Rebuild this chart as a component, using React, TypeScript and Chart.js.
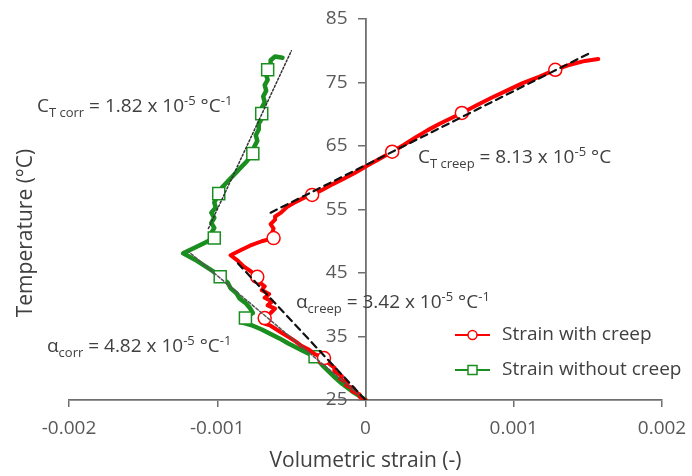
import React, { useEffect, useRef } from "react";
import { Chart, registerables } from "chart.js";

Chart.register(...registerables);

// ---------------- data ----------------
const creepStrain = [
  0.0, -0.00004, -0.00004, -0.00009, -0.00008, -0.00013, -0.00012, -0.00017, -0.00016, -0.00021,
  -0.00021, -0.00025, -0.00028, -0.00034, -0.00038, -0.00043, -0.00047, -0.00051, -0.00056, -0.0006,
  -0.00064, -0.0007, -0.00068, -0.00064, -0.00061, -0.00066, -0.00063, -0.00068, -0.00065, -0.0007,
  -0.00068, -0.00072, -0.00073, -0.00077, -0.00082, -0.00086, -0.00091, -0.00085, -0.00078, -0.0007,
  -0.00062, -0.00063, -0.00062, -0.00064, -0.00061, -0.00061, -0.00057, -0.00053, -0.00047, -0.00041,
  -0.00036, -0.00029, -0.00022, -0.00015, -0.00007, 0.00001, 0.00009, 0.00018, 0.00026, 0.00034,
  0.00042, 0.0005, 0.00058, 0.00065, 0.00074, 0.00085, 0.00096, 0.00106, 0.00117, 0.00128,
  0.00138, 0.00148, 0.00157,
];
const creepTemp = [
  25.0, 25.5, 25.9, 26.4, 26.8, 27.3, 27.7, 28.3, 28.8, 29.5,
  30.1, 30.8, 31.6, 32.2, 32.9, 33.5, 34.2, 34.8, 35.5, 36.1,
  36.7, 37.2, 37.9, 38.7, 39.4, 39.9, 40.5, 41.1, 41.7, 42.3,
  42.9, 43.6, 44.4, 45.2, 46.0, 46.9, 47.8, 48.5, 49.3, 50.0,
  50.5, 51.3, 52.0, 52.7, 53.4, 53.9, 54.5, 55.4, 56.2, 56.9,
  57.3, 58.1, 59.0, 59.8, 60.8, 61.9, 62.9, 64.1, 65.2, 66.4,
  67.5, 68.5, 69.4, 70.2, 71.3, 72.6, 73.8, 74.9, 75.9, 77.0,
  77.8, 78.4, 78.7,
];

const corrStrain = [
  0.0, -0.00004, -0.00008, -0.00012, -0.00016, -0.0002, -0.00024, -0.00028, -0.00031, -0.00034,
  -0.0004, -0.00046, -0.00052, -0.00058, -0.00064, -0.0007, -0.00076, -0.00083, -0.00081, -0.00076,
  -0.00078, -0.00081, -0.00085, -0.00087, -0.00091, -0.00093, -0.00098, -0.00103, -0.00109, -0.00115,
  -0.00123, -0.00116, -0.00109, -0.00102, -0.00104, -0.00102, -0.00104, -0.00102, -0.00104, -0.00101,
  -0.00102, -0.00099, -0.00097, -0.00093, -0.00089, -0.00085, -0.0008, -0.00076, -0.00075, -0.00073,
  -0.00074, -0.00072, -0.00072, -0.0007, -0.0007, -0.0007, -0.00068, -0.00069, -0.00067, -0.00068,
  -0.00066, -0.00067, -0.00066, -0.00064, -0.00064, -0.00061, -0.00056,
];
const corrTemp = [
  25.0, 25.6, 26.2, 26.9, 27.6, 28.4, 29.3, 30.2, 31.0, 31.8,
  32.5, 33.2, 33.9, 34.7, 35.4, 36.1, 36.7, 37.2, 37.9, 38.7,
  39.5, 40.3, 41.0, 41.8, 42.6, 43.5, 44.4, 45.3, 46.2, 47.1,
  48.1, 48.9, 49.7, 50.5, 51.3, 52.1, 52.9, 53.7, 54.5, 55.3,
  56.1, 57.5, 58.4, 59.4, 60.4, 61.4, 62.6, 63.8, 64.9, 65.8,
  66.7, 67.6, 68.5, 69.3, 70.1, 71.0, 71.9, 72.8, 73.7, 74.6,
  75.4, 76.2, 77.0, 77.8, 78.5, 79.1, 78.9,
];

const creepMarkerStrain = [-0.00028, -0.00068, -0.00073, -0.00062, -0.00036, 0.00018, 0.00065, 0.00128];
const creepMarkerTemp = [31.6, 37.9, 44.4, 50.5, 57.3, 64.1, 70.2, 77.0];
const corrMarkerStrain = [-0.00034, -0.00081, -0.00098, -0.00102, -0.00099, -0.00076, -0.0007, -0.00066];
const corrMarkerTemp = [31.8, 37.9, 44.4, 50.5, 57.5, 63.8, 70.1, 77.0];

// fitted trend lines (end points)
const creepHighFitStrain = [-0.00064, 0.00151];
const creepHighFitTemp = [54.5, 79.6];
const creepLowFitStrain = [0.0, -0.00086];
const creepLowFitTemp = [25.0, 46.5];
const corrHighFitStrain = [-0.00106, -0.0005];
const corrHighFitTemp = [52.0, 80.0];
const corrLowFitStrain = [0.0, -0.00119];
const corrLowFitTemp = [25.0, 48.3];

const seriesNames = ["Strain with creep", "Strain without creep"];
const xTickValues = [-0.002, -0.001, 0, 0.001, 0.002];
const xTickLabels = ["-0.002", "-0.001", "0", "0.001", "0.002"];
const yTickValues = [25, 35, 45, 55, 65, 75, 85];
const yTickLabels = ["25", "35", "45", "55", "65", "75", "85"];
const xTitle = "Volumetric strain (-)";
const yTitle = "Temperature (°C)";

// annotation texts: [text, role] role: n = normal, sub = subscript, sup = superscript
const annCorrHigh: [string, string][] = [["C", "n"], ["T corr", "sub"], [" = 1.82 x 10", "n"], ["-5", "sup"], [" °C", "n"], ["-1", "sup"]];
const annCreepHigh: [string, string][] = [["C", "n"], ["T creep", "sub"], [" = 8.13 x 10", "n"], ["-5", "sup"], [" °C", "n"]];
const annCreepLow: [string, string][] = [["α", "n"], ["creep", "sub"], [" = 3.42 x 10", "n"], ["-5", "sup"], [" °C", "n"], ["-1", "sup"]];
const annCorrLow: [string, string][] = [["α", "n"], ["corr", "sub"], [" = 4.82 x 10", "n"], ["-5", "sup"], [" °C", "n"], ["-1", "sup"]];

// ---------------- styling ----------------
const FONT = '"Open Sans", "DejaVu Sans", sans-serif';
const RED = "#ff0000";
const GREEN = "#1a8f1f";
const AXIS = "#6f6f6f";
const TICK_TEXT = "#595959";
const TEXT = "#404040";

const zip = (xs: number[], ys: number[]) => xs.map((x, i) => ({ x, y: ys[i] }));

function drawRich(ctx: CanvasRenderingContext2D, x: number, y: number, segs: [string, string][]) {
  let cx = x;
  ctx.textBaseline = "alphabetic";
  ctx.textAlign = "left";
  ctx.fillStyle = TEXT;
  for (const [t, role] of segs) {
    const size = role === "n" ? 19 : 13;
    const dy = role === "sub" ? 5 : role === "sup" ? -7 : 0;
    ctx.font = `${size}px ${FONT}`;
    ctx.fillText(t, cx, y + dy);
    cx += ctx.measureText(t).width;
  }
}

const decorPlugin = {
  id: "decor",
  afterDraw(chart: any) {
    const ctx: CanvasRenderingContext2D = chart.ctx;
    const xs = chart.scales.x;
    const ys = chart.scales.y;

    // y tick labels, placed left of the y axis (which crosses at x = 0)
    ctx.save();
    const axisX = xs.getPixelForValue(0);
    ctx.font = `19px ${FONT}`;
    ctx.fillStyle = TICK_TEXT;
    ctx.textAlign = "right";
    ctx.textBaseline = "middle";
    ys.ticks.forEach((t: any) => {
      const i = yTickValues.indexOf(t.value);
      if (i >= 0) ctx.fillText(yTickLabels[i], axisX - 18, ys.getPixelForValue(t.value));
    });
    ctx.restore();

    // y-axis title
    ctx.save();
    ctx.translate(26, 233);
    ctx.rotate(-Math.PI / 2);
    ctx.font = `21px ${FONT}`;
    ctx.fillStyle = TEXT;
    ctx.textAlign = "center";
    ctx.textBaseline = "middle";
    ctx.fillText(yTitle, 0, 0);
    ctx.restore();

    ctx.save();
    drawRich(ctx, 37, 112, annCorrHigh);
    drawRich(ctx, 418, 163, annCreepHigh);
    drawRich(ctx, 296, 308, annCreepLow);
    drawRich(ctx, 47, 352, annCorrLow);

    // legend
    const items = [
      { name: seriesNames[0], color: RED, y: 335, shape: "circle" },
      { name: seriesNames[1], color: GREEN, y: 370, shape: "square" },
    ];
    for (const it of items) {
      ctx.strokeStyle = it.color;
      ctx.lineWidth = 2;
      ctx.beginPath();
      ctx.moveTo(455, it.y);
      ctx.lineTo(490, it.y);
      ctx.stroke();
      ctx.fillStyle = "#ffffff";
      ctx.lineWidth = 1.5;
      ctx.beginPath();
      if (it.shape === "circle") {
        ctx.arc(472.5, it.y, 4.5, 0, Math.PI * 2);
      } else {
        ctx.rect(468, it.y - 4.5, 9, 9);
      }
      ctx.fill();
      ctx.stroke();
      ctx.font = `19px ${FONT}`;
      ctx.fillStyle = TEXT;
      ctx.textAlign = "left";
      ctx.textBaseline = "middle";
      ctx.fillText(it.name, 502, it.y);
    }
    ctx.restore();
  },
};

export default function App() {
  const ref = useRef<HTMLCanvasElement>(null);
  useEffect(() => {
    const canvas = ref.current;
    if (!canvas) return;
    const chart = new Chart(canvas, {
      type: "scatter",
      data: {
        datasets: [
          {
            label: "creepHighFit",
            data: zip(creepHighFitStrain, creepHighFitTemp),
            showLine: true,
            borderColor: "#111111",
            borderWidth: 2.2,
            borderDash: [7, 5],
            pointRadius: 0,
            order: 0,
          },
          {
            label: "creepLowFit",
            data: zip(creepLowFitStrain, creepLowFitTemp),
            showLine: true,
            borderColor: "#111111",
            borderWidth: 2.2,
            borderDash: [7, 5],
            pointRadius: 0,
            order: 0,
          },
          {
            label: "corrHighFit",
            data: zip(corrHighFitStrain, corrHighFitTemp),
            showLine: true,
            borderColor: "#333333",
            borderWidth: 1.5,
            borderDash: [2, 2],
            pointRadius: 0,
            order: 0,
          },
          {
            label: "corrLowFit",
            data: zip(corrLowFitStrain, corrLowFitTemp),
            showLine: true,
            borderColor: "#555555",
            borderWidth: 1.5,
            borderDash: [3, 2],
            pointRadius: 0,
            order: 0,
          },
          {
            label: seriesNames[0] + " markers",
            data: zip(creepMarkerStrain, creepMarkerTemp),
            showLine: false,
            pointStyle: "circle",
            pointRadius: 6.5,
            pointBorderWidth: 1.5,
            pointBorderColor: RED,
            pointBackgroundColor: "#ffffff",
            order: 1,
          },
          {
            label: seriesNames[0],
            data: zip(creepStrain, creepTemp),
            showLine: true,
            borderColor: RED,
            borderWidth: 4,
            pointRadius: 0,
            order: 2,
          },
          {
            label: seriesNames[1] + " markers",
            data: zip(corrMarkerStrain, corrMarkerTemp),
            showLine: false,
            pointStyle: "rect",
            pointRadius: 8.5,
            pointBorderWidth: 1.5,
            pointBorderColor: GREEN,
            pointBackgroundColor: "#ffffff",
            order: 3,
          },
          {
            label: seriesNames[1],
            data: zip(corrStrain, corrTemp),
            showLine: true,
            borderColor: GREEN,
            borderWidth: 4.5,
            pointRadius: 0,
            order: 4,
          },
        ],
      },
      options: {
        animation: false,
        responsive: false,
        devicePixelRatio: 1,
        layout: { padding: { left: 69, right: 30, top: 19, bottom: 0 } },
        plugins: { legend: { display: false }, tooltip: { enabled: false } },
        elements: { line: { tension: 0, borderJoinStyle: "round", borderCapStyle: "round" } },
        scales: {
          x: {
            type: "linear",
            position: "bottom",
            min: -0.002,
            max: 0.002,
            afterFit: (s: any) => {
              s.height = 76;
              s.paddingLeft = 0;
              s.paddingRight = 0;
            },
            afterBuildTicks: (s: any) => {
              s.ticks = xTickValues.map((v) => ({ value: v }));
            },
            ticks: {
              font: { family: FONT, size: 19 },
              color: TICK_TEXT,
              padding: 10,
              maxRotation: 0,
              callback: (v: any) => {
                const i = xTickValues.findIndex((t) => Math.abs(t - Number(v)) < 1e-9);
                return i >= 0 ? xTickLabels[i] : "";
              },
            },
            grid: { display: true, drawOnChartArea: false, drawTicks: true, tickLength: 7, color: AXIS, lineWidth: 1.5 },
            border: { display: true, color: AXIS, width: 1.8 },
            title: {
              display: true,
              text: xTitle,
              font: { family: FONT, size: 21 },
              color: TEXT,
              padding: { top: 0, bottom: 2 },
            },
          },
          y: {
            type: "linear",
            position: { x: 0 } as any,
            min: 25,
            max: 85,
            afterFit: (s: any) => {
              s.paddingTop = 0;
              s.paddingBottom = 0;
            },
            afterBuildTicks: (s: any) => {
              s.ticks = yTickValues.map((v) => ({ value: v }));
            },
            ticks: { display: false },
            grid: { display: true, drawOnChartArea: false, drawTicks: true, tickLength: 7, color: AXIS, lineWidth: 1.5 },
            border: { display: true, color: AXIS, width: 1.8 },
          },
        },
      },
      plugins: [decorPlugin],
    } as any);
    return () => chart.destroy();
  }, []);
  return (
    <div style={{ position: "fixed", left: 0, top: 0, width: 692, height: 476, background: "#ffffff" }}>
      <canvas ref={ref} width={692} height={476} style={{ display: "block", width: 692, height: 476 }} />
    </div>
  );
}
